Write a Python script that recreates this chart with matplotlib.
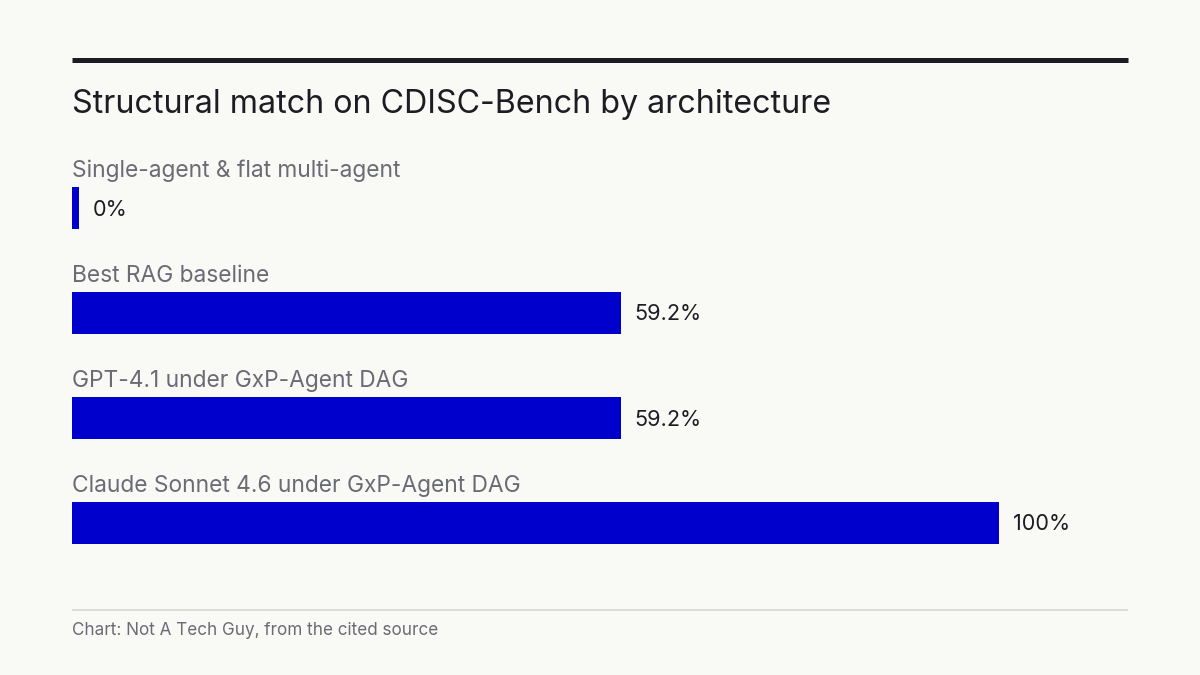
import numpy as np
import matplotlib.pyplot as plt
from matplotlib.lines import Line2D

# datos del grafico
categorias = ['Single-agent & flat multi-agent', 'Best RAG baseline',
              'GPT-4.1 under GxP-Agent DAG', 'Claude Sonnet 4.6 under GxP-Agent DAG']
valores = [0, 59.2, 59.2, 100]
etiquetas = ['0%', '59.2%', '59.2%', '100%']

fondo = '#f9f9f6'
azul = '#0000cc'
oscuro = '#1c1c22'
gris = '#6b6b75'

plt.rcParams['font.family'] = ['Inter', 'DejaVu Sans']

fig = plt.figure(figsize=(12, 6.75), dpi=100, facecolor=fondo)
ax = fig.add_axes([72/1200, 100/675, 927/1200, 420/675])
ax.set_facecolor(fondo)

y = np.arange(len(categorias))
# barra minima para que el 0% se vea
anchos = np.maximum(valores, 0.75)
ax.barh(y, anchos, height=0.4, color=azul, left=0)
ax.set_xlim(0, 100)
ax.set_ylim(3.5, -0.5)
ax.axis('off')

for i, (cat, w, lab) in enumerate(zip(categorias, anchos, etiquetas)):
    ax.annotate(cat, xy=(0, i - 0.2), xytext=(0, 6.5), textcoords='offset points',
                ha='left', va='baseline', fontsize=16.4, color=gris)
    ax.annotate(lab, xy=(w, i), xytext=(10, 0), textcoords='offset points',
                ha='left', va='center_baseline', fontsize=15.6, color=oscuro)

# linea superior, titulo y pie
fig.add_artist(Line2D([72/1200, 1128/1200], [1 - 60/675] * 2, color=oscuro, lw=3.6,
                      solid_capstyle='butt'))
fig.text(72/1200, 1 - 113/675, 'Structural match on CDISC-Bench by architecture',
         fontsize=23.2, color=oscuro, ha='left', va='baseline')
fig.add_artist(Line2D([72/1200, 1128/1200], [1 - 610/675] * 2, color='#d6d6d2', lw=1.2,
                      solid_capstyle='butt'))
fig.text(72/1200, 1 - 635/675, 'Chart: Not A Tech Guy, from the cited source',
         fontsize=12.3, color=gris, ha='left', va='baseline')

fig.savefig('out.png', dpi=100, facecolor=fondo)
